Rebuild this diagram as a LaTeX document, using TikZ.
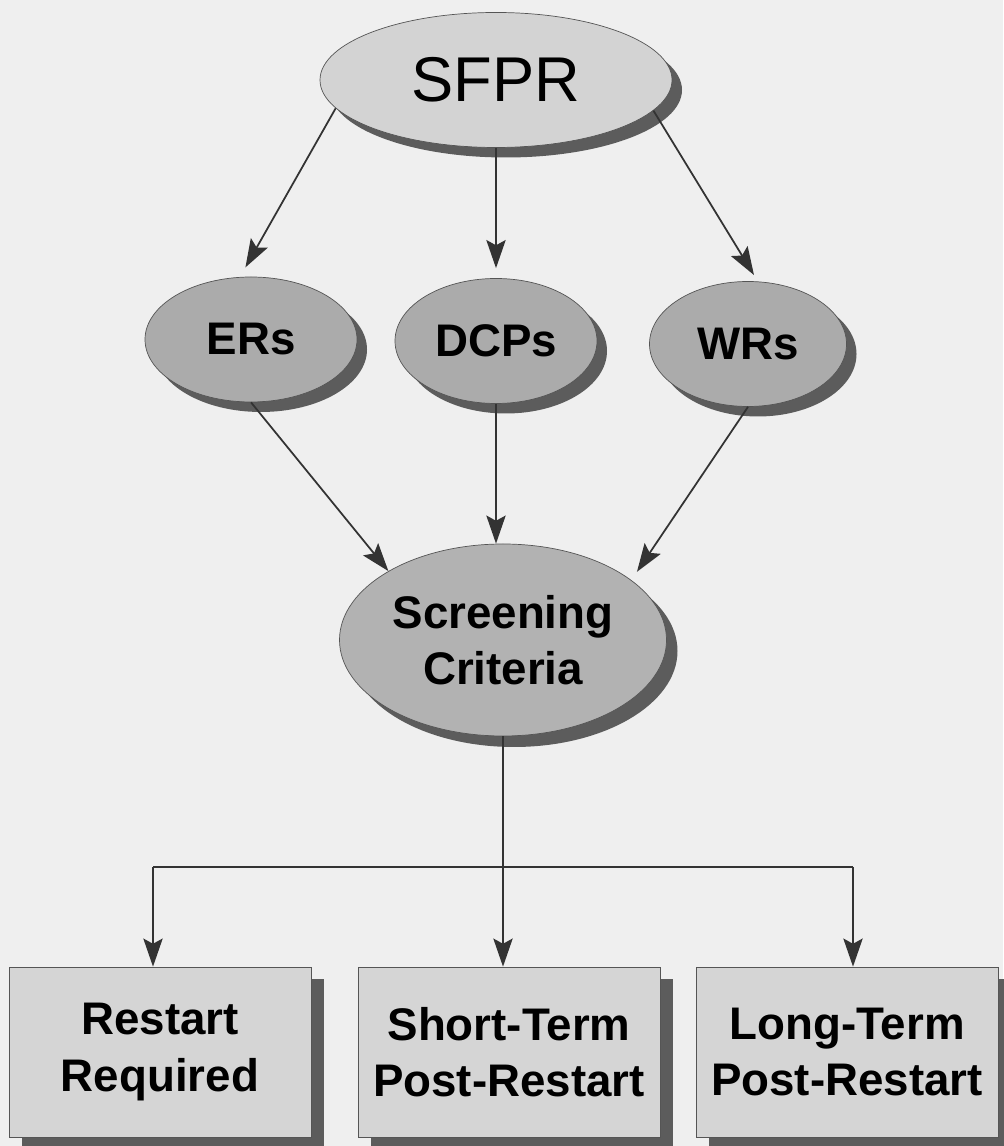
\documentclass[tikz,border=0pt]{standalone}
\usepackage{fontspec}
\setmainfont{Liberation Sans}
\usetikzlibrary{shapes.geometric,shadows,arrows.meta}
\definecolor{paper}{HTML}{EFEFEF}
\definecolor{edgegray}{HTML}{555555}
\definecolor{shadegray}{HTML}{5C5C5C}
\definecolor{linegray}{HTML}{333333}
\definecolor{topfill}{HTML}{D3D3D3}
\definecolor{midfill}{HTML}{ABABAB}
\definecolor{critfill}{HTML}{B2B2B2}
\definecolor{boxfill}{HTML}{D5D5D5}
\begin{document}
\begin{tikzpicture}[
	topell/.style={ ellipse, draw=edgegray, thin, fill=topfill, inner sep=0pt, minimum width=7.04cm, minimum height=2.7cm, general shadow={fill=shadegray, shadow xshift=0.2cm, shadow yshift=-0.2cm}, font=\fontsize{36}{40}\selectfont },
	midell/.style={ ellipse, draw=edgegray, thin, fill=midfill, inner sep=0pt, minimum height=2.5cm, general shadow={fill=shadegray, shadow xshift=0.2cm, shadow yshift=-0.2cm}, font=\fontsize{26}{32}\selectfont\bfseries },
	critell/.style={ ellipse, draw=edgegray, thin, fill=critfill, inner sep=0pt, minimum width=6.54cm, minimum height=3.84cm, align=center, general shadow={fill=shadegray, shadow xshift=0.22cm, shadow yshift=-0.22cm}, font=\fontsize{26}{32}\selectfont\bfseries },
	outbox/.style={ rectangle, draw=edgegray, thin, fill=boxfill, inner sep=0pt, minimum width=6.04cm, minimum height=3.4cm, align=center, general shadow={fill=shadegray, shadow xshift=0.25cm, shadow yshift=-0.25cm}, font=\fontsize{26}{32}\selectfont\bfseries },
	arr/.style={ -{Stealth[length=16pt, width=11pt, inset=3pt]}, line width=1pt, draw=linegray }
]

\useasboundingbox (0,0) rectangle (20.06,22.92);
\fill[paper] (0,0) rectangle (20.06,22.92);

\node[topell] at (9.92,21.32) (sfpr) {SFPR};
\node[midell, minimum width=4.24cm] at (5.02,16.13) (ers) {ERs};
\node[midell, minimum width=4.04cm] at (9.92,16.10) (dcps) {DCPs};
\node[midell, minimum width=3.94cm] at (14.96,16.04) (wrs) {WRs};
\node[critell] at (10.06,10.12) (crit) {Screening\\Criteria};

\node[outbox] at (3.2,1.88) (restart) {Restart\\Required};
\node[outbox] at (10.18,1.88) (short) {Short-Term\\Post-Restart};
\node[outbox] at (16.94,1.88) (long) {Long-Term\\Post-Restart};

\draw[arr, shorten >=0.22cm] (sfpr.190) to (ers.100);
\draw[arr, shorten >=0.2cm] (sfpr.south) to (dcps.north);
\draw[arr, shorten >=0.15cm] (sfpr.349) to (wrs.81);

\draw[arr] (ers.south) to (crit.149);
\draw[arr] (dcps.south) to (dcps.south |- crit.north);
\draw[arr, shorten >=0.2cm] (wrs.south) to (crit.25);

\coordinate (j1) at (3.06,5.58);
\coordinate (j3) at (17.06,5.58);
\draw[line width=1pt, linegray] (j1) to (j3);
\draw[arr] (crit.south) to (crit.south |- short.north);
\draw[arr] (j1) to (j1 |- restart.north);
\draw[arr] (j3) to (j3 |- long.north);

\end{tikzpicture}
\end{document}
